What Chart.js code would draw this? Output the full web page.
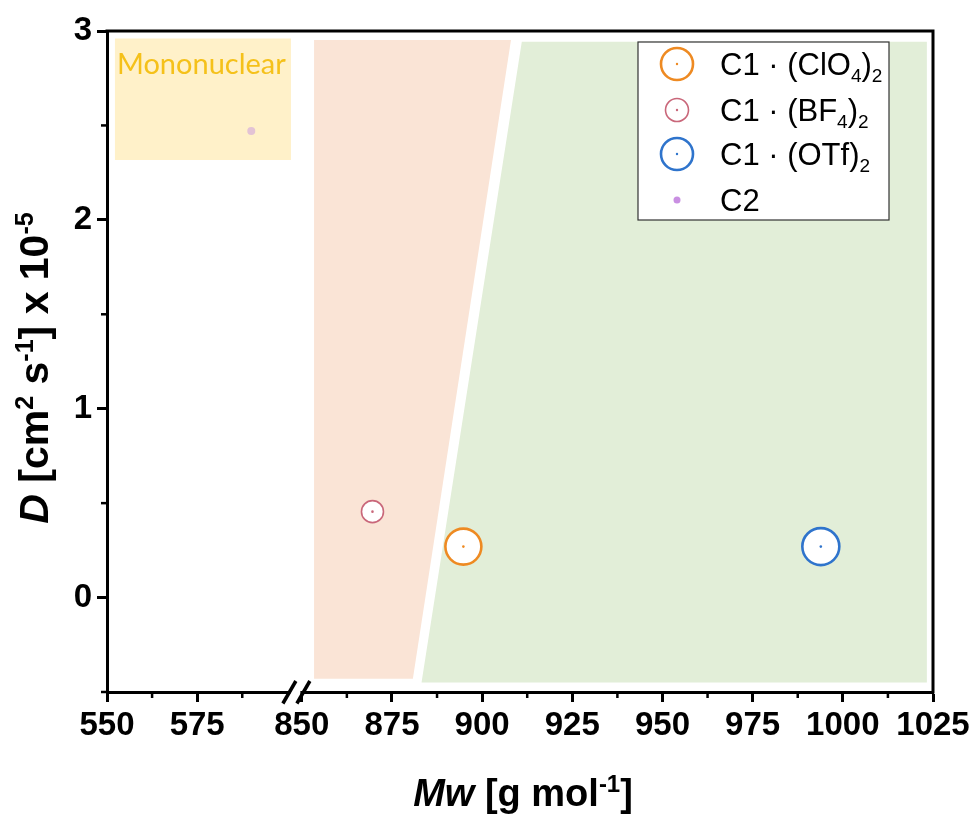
<!DOCTYPE html>
<html>
<head>
<meta charset="utf-8">
<script src="https://cdn.jsdelivr.net/npm/chart.js@4.4.0/dist/chart.umd.min.js"></script>
<style>
  body { margin: 0; background: #fff; }
  #wrap { width: 977px; height: 820px; }
</style>
</head>
<body>
<div id="wrap"><canvas id="diffChart" width="977" height="820"></canvas></div>
<script>
// measured complexes
var seriesLabels = ["C1 · (ClO4)2", "C1 · (BF4)2", "C1 · (OTf)2", "C2"];
var seriesMw = [894.8, 869.6, 993.9, 590.0];
var seriesD = [0.27, 0.455, 0.27, 2.47];

// shaded zones (Mw, D corners)
var monoMw = [552.2, 601.0, 601.0, 552.2];
var monoD = [2.96, 2.96, 2.317, 2.317];
var dimerMw = [853.4, 908.0, 880.8, 853.4];
var dimerD = [2.952, 2.952, -0.43, -0.43];
var higherMw = [911.0, 1023.3, 1023.3, 883.2];
var higherD = [2.943, 2.943, -0.45, -0.45];

// axis ticks
var xTicksMw = [550, 575, 850, 875, 900, 925, 950, 975, 1000, 1025];
var xMinorMw = [562.5, 587.5, 862.5, 887.5, 912.5, 937.5, 962.5, 987.5, 1012.5];
var yTicks = [0, 1, 2, 3];
var yMinor = [-0.5, 0.5, 1.5, 2.5];

// broken x axis: everything above the gap is shifted left
var GAP = 246;
var BREAK_AT = 602.5;
function toAxis(mw) { return mw > 700 ? mw - GAP : mw; }
function fromAxis(v) { return v > BREAK_AT ? v + GAP : v; }

var FONT = '"Liberation Sans", Arial, sans-serif';
Chart.defaults.font.family = FONT;

function polygon(mws, ds) {
  var pts = [];
  for (var i = 0; i < mws.length; i++) pts.push({x: toAxis(mws[i]), y: ds[i]});
  pts.push(pts[0]);
  return pts;
}

function zone(pts, color) {
  return {
    data: pts,
    showLine: true,
    fill: 'shape',
    backgroundColor: color,
    borderWidth: 0,
    borderColor: 'rgba(0,0,0,0)',
    pointRadius: 0,
    tension: 0,
    order: 5
  };
}

var markerColors = ["#ee8a22", "#c9677a", "#2f74cc", "#c98fe2"];
var markerRadius = [18, 11, 18.5, 4];
var markerWidth = [2.6, 1.6, 2.6, 0];

var pointSets = seriesLabels.map(function(name, i) {
  var solid = i === 3;
  return {
    label: name,
    data: [{x: toAxis(seriesMw[i]), y: seriesD[i]}],
    showLine: false,
    pointRadius: markerRadius[i],
    pointBorderWidth: markerWidth[i],
    pointBorderColor: markerColors[i],
    pointBackgroundColor: solid ? 'rgba(200,150,225,0.5)' : '#ffffff',
    order: 1
  };
});

function partFont(p, size, weight) {
  var s = (p.sup || p.sub) ? Math.round(size * 0.62) : size;
  return (p.it ? 'italic ' : '') + weight + ' ' + s + 'px ' + FONT;
}

function drawRich(ctx, parts, x, y, size, weight, align) {
  var widths = parts.map(function(p) {
    ctx.font = partFont(p, size, weight);
    return ctx.measureText(p.t).width;
  });
  var total = widths.reduce(function(a, b) { return a + b; }, 0);
  var cx = align === 'center' ? x - total / 2 : x;
  ctx.textBaseline = 'alphabetic';
  ctx.textAlign = 'left';
  parts.forEach(function(p, i) {
    ctx.font = partFont(p, size, weight);
    var dy = p.sup ? -size * 0.36 : (p.sub ? size * 0.24 : 0);
    ctx.fillText(p.t, cx, y + dy);
    cx += widths[i];
  });
}

var legendParts = [
  [{t: 'C1 · (ClO'}, {t: '4', sub: true}, {t: ')'}, {t: '2', sub: true}],
  [{t: 'C1 · (BF'}, {t: '4', sub: true}, {t: ')'}, {t: '2', sub: true}],
  [{t: 'C1 · (OTf)'}, {t: '2', sub: true}],
  [{t: 'C2'}]
];
var legendRadius = [16, 11.5, 16, 3.5];

var decorations = {
  id: 'decorations',
  afterDatasetsDraw: function(chart) {
    var ctx = chart.ctx;
    var xs = chart.scales.x, ys = chart.scales.y;
    ctx.save();
    // centre dots of the open markers
    for (var i = 0; i < 3; i++) {
      var meta = chart.getDatasetMeta(3 + i);
      var el = meta.data[0];
      ctx.fillStyle = markerColors[i];
      ctx.beginPath();
      ctx.arc(el.x, el.y, 1.3, 0, Math.PI * 2);
      ctx.fill();
    }
    // zone caption
    ctx.fillStyle = '#f5c11a';
    ctx.font = '29px Lato, "Open Sans", sans-serif';
    ctx.textAlign = 'left';
    ctx.textBaseline = 'alphabetic';
    ctx.fillText('Mononuclear', xs.getPixelForValue(monoMw[0]) + 2, ys.getPixelForValue(monoD[0]) + 35);
    ctx.restore();
  },
  afterDraw: function(chart) {
    var ctx = chart.ctx;
    var a = chart.chartArea;
    var xs = chart.scales.x, ys = chart.scales.y;
    ctx.save();
    ctx.strokeStyle = '#000';
    ctx.fillStyle = '#000';

    // top and right frame
    ctx.lineWidth = 3;
    ctx.beginPath();
    ctx.moveTo(a.left - 1.5, a.top);
    ctx.lineTo(a.right, a.top);
    ctx.lineTo(a.right, a.bottom + 1.5);
    ctx.stroke();

    // minor ticks
    ctx.lineWidth = 2.5;
    xMinorMw.forEach(function(v) {
      var px = xs.getPixelForValue(toAxis(v));
      ctx.beginPath();
      ctx.moveTo(px, a.bottom);
      ctx.lineTo(px, a.bottom + 6);
      ctx.stroke();
    });
    yMinor.forEach(function(v) {
      var py = ys.getPixelForValue(v);
      ctx.beginPath();
      ctx.moveTo(a.left, py);
      ctx.lineTo(a.left - 6, py);
      ctx.stroke();
    });

    // axis break
    var bx = xs.getPixelForValue(BREAK_AT);
    ctx.fillStyle = '#fff';
    ctx.fillRect(bx - 6, a.bottom - 3, 10, 6);
    ctx.lineWidth = 3.5;
    [-7, 7].forEach(function(off) {
      ctx.beginPath();
      ctx.moveTo(bx + off - 6.5, a.bottom + 11.5);
      ctx.lineTo(bx + off + 6.5, a.bottom - 11);
      ctx.stroke();
    });

    // axis titles
    ctx.fillStyle = '#000';
    drawRich(ctx, [{t: 'Mw', it: true}, {t: ' [g mol'}, {t: '-1', sup: true}, {t: ']'}],
      (a.left + a.right) / 2 + 3, 806, 38, 'bold', 'center');
    ctx.save();
    ctx.translate(48, 368);
    ctx.rotate(-Math.PI / 2);
    drawRich(ctx, [{t: 'D', it: true}, {t: ' [cm'}, {t: '2', sup: true}, {t: ' s'}, {t: '-1', sup: true},
      {t: '] x 10'}, {t: '-5', sup: true}], 0, 0, 41, 'bold', 'center');
    ctx.restore();

    // legend
    var lx = 638, ly = 42, lw = 251, lh = 178;
    ctx.fillStyle = '#fff';
    ctx.fillRect(lx, ly, lw, lh);
    ctx.strokeStyle = '#333';
    ctx.lineWidth = 1.2;
    ctx.strokeRect(lx, ly, lw, lh);
    var rows = [64, 110, 154, 200];
    for (var i = 0; i < 4; i++) {
      var cy = rows[i];
      if (i < 3) {
        ctx.strokeStyle = markerColors[i];
        ctx.lineWidth = markerWidth[i];
        ctx.beginPath();
        ctx.arc(677, cy, legendRadius[i], 0, Math.PI * 2);
        ctx.stroke();
        ctx.fillStyle = markerColors[i];
        ctx.beginPath();
        ctx.arc(677, cy, 1.2, 0, Math.PI * 2);
        ctx.fill();
      } else {
        ctx.fillStyle = markerColors[3];
        ctx.beginPath();
        ctx.arc(677, cy, legendRadius[i], 0, Math.PI * 2);
        ctx.fill();
      }
      ctx.fillStyle = '#000';
      drawRich(ctx, legendParts[i], 720, cy + 11, 31, 'normal', 'left');
    }
    ctx.restore();
  }
};

var chart = new Chart(document.getElementById('diffChart'), {
  type: 'scatter',
  data: {
    datasets: [
      zone(polygon(monoMw, monoD), '#fff1c9'),
      zone(polygon(dimerMw, dimerD), '#fae4d6'),
      zone(polygon(higherMw, higherD), '#e2eed8')
    ].concat(pointSets)
  },
  options: {
    responsive: false,
    animation: false,
    events: [],
    layout: { padding: { left: 0, top: 31, right: 44, bottom: 0 } },
    plugins: { legend: { display: false }, tooltip: { enabled: false } },
    scales: {
      x: {
        type: 'linear',
        min: 550,
        max: toAxis(1025),
        afterBuildTicks: function(scale) {
          scale.ticks = xTicksMw.map(function(v) { return {value: toAxis(v)}; });
        },
        afterFit: function(scale) { scale.height = 128; },
        ticks: {
          color: '#000',
          font: { size: 33, weight: 'bold' },
          padding: 4,
          maxRotation: 0,
          autoSkip: false,
          callback: function(v) { return String(Math.round(fromAxis(v))); }
        },
        grid: { drawOnChartArea: false, tickLength: 10, tickWidth: 3, tickColor: '#000' },
        border: { color: '#000', width: 3 }
      },
      y: {
        min: -0.5,
        max: 3,
        afterBuildTicks: function(scale) {
          scale.ticks = yTicks.map(function(v) { return {value: v}; });
        },
        afterFit: function(scale) { scale.width = 107; },
        ticks: {
          color: '#000',
          font: { size: 33, weight: 'bold' },
          padding: 5,
          autoSkip: false
        },
        grid: { drawOnChartArea: false, tickLength: 10, tickWidth: 3, tickColor: '#000' },
        border: { color: '#000', width: 3 }
      }
    }
  },
  plugins: [decorations]
});
</script>
</body>
</html>
